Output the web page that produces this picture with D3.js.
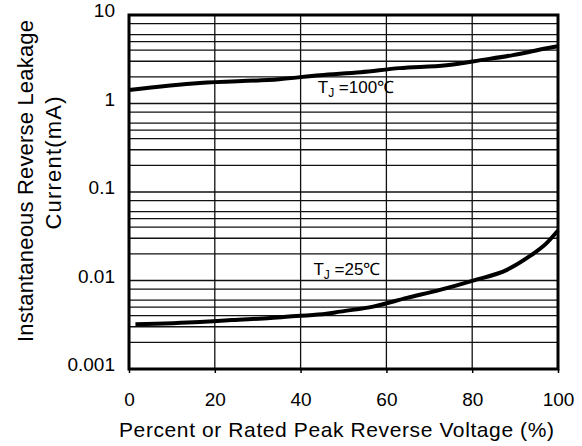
<!DOCTYPE html>
<html>
<head>
<meta charset="utf-8">
<script src="https://d3js.org/d3.v7.min.js"></script>
<style>
  body { margin: 0; background: #fff; }
  text { font-family: "Liberation Sans", Arial, sans-serif; fill: #000; }
</style>
</head>
<body>
<div id="my_dataviz"></div>
<script>
// values
var xTicks = [0, 20, 40, 60, 80, 100];
var yTicks = [0.001, 0.01, 0.1, 1, 10];
var yTickLabels = ["0.001", "0.01", "0.1", "1", "10"];
var gridMantissa = [1, 2, 3, 4, 5, 6, 8];

var pctHot = [0, 16.5, 35, 44.5, 54, 63, 74, 82, 89.5, 97.4, 100];
var iHot = [1.42, 1.70, 1.88, 2.09, 2.26, 2.51, 2.71, 3.09, 3.52, 4.22, 4.45];

var pctCold = [1.5, 16.5, 24, 33, 39, 46, 49.2, 56.9, 64.8, 72.5, 80.2, 88.1, 92.8, 97.4, 100];
var iCold = [0.0032, 0.0034, 0.00358, 0.00377, 0.00397, 0.0042, 0.00445, 0.00507, 0.00636, 0.00783, 0.00998, 0.0132, 0.018, 0.0266, 0.0367];

var curveNames = ["100", "25"];
var labelPct = [44, 43];
var labelVal = [1.31, 0.0116];

// set the dimensions and margins of the graph
var margin = {top: 15, right: 24, bottom: 77, left: 129},
    width = 582 - margin.left - margin.right,
    height = 446 - margin.top - margin.bottom;

var svg = d3.select("#my_dataviz")
  .append("svg")
    .attr("width", 582)
    .attr("height", 446)
  .append("g")
    .attr("transform", "translate(" + margin.left + "," + margin.top + ")");

var x = d3.scaleLinear()
  .domain([0, 100])
  .range([0, width]);

var y = d3.scaleLog()
  .domain([0.001, 10])
  .range([height, 0]);

// horizontal log grid
var gridVals = [];
[0.001, 0.01, 0.1, 1].forEach(function (dec) {
  gridMantissa.forEach(function (m) { gridVals.push(dec * m); });
});

svg.append("g")
  .selectAll("line")
  .data(gridVals)
  .enter()
  .append("line")
    .attr("x1", 0)
    .attr("x2", width)
    .attr("y1", d => y(d))
    .attr("y2", d => y(d))
    .style("stroke", "#111")
    .style("stroke-width", 1.3);

// vertical grid
svg.append("g")
  .selectAll("line")
  .data(xTicks.slice(1, -1))
  .enter()
  .append("line")
    .attr("x1", d => x(d))
    .attr("x2", d => x(d))
    .attr("y1", 0)
    .attr("y2", height)
    .style("stroke", "#111")
    .style("stroke-width", 1.3);

// X axis
var xAxis = svg.append("g")
  .attr("transform", "translate(0," + height + ")")
  .call(d3.axisBottom(x).tickValues(xTicks).tickSize(4).tickPadding(20));
xAxis.select(".domain").remove();
xAxis.selectAll("line").style("stroke", "#000").style("stroke-width", 1.5);
xAxis.selectAll("text")
  .style("font-size", "19px")
  .style("font-family", "Liberation Sans, Arial, sans-serif");

// Y axis
var yAxis = svg.append("g")
  .call(d3.axisLeft(y)
    .tickValues(yTicks)
    .tickFormat((d, i) => yTickLabels[i])
    .tickSize(0)
    .tickPadding(14));
yAxis.select(".domain").remove();
yAxis.selectAll("text")
  .attr("dy", "0.1em")
  .style("font-size", "19px")
  .style("font-family", "Liberation Sans, Arial, sans-serif");

// curves
var line = d3.line()
  .x(d => x(d[0]))
  .y(d => y(d[1]))
  .curve(d3.curveMonotoneX);

var series = [d3.zip(pctHot, iHot), d3.zip(pctCold, iCold)];

svg.append("g")
  .selectAll("path")
  .data(series)
  .enter()
  .append("path")
    .attr("d", line)
    .style("fill", "none")
    .style("stroke", "#000")
    .style("stroke-width", 4);

// frame
svg.append("rect")
  .attr("x", 0)
  .attr("y", 0)
  .attr("width", width)
  .attr("height", height)
  .style("fill", "none")
  .style("stroke", "#000")
  .style("stroke-width", 3);

// curve labels
var lbl = svg.append("g")
  .selectAll("text")
  .data(curveNames)
  .enter()
  .append("text")
    .attr("x", (d, i) => x(labelPct[i]))
    .attr("y", (d, i) => y(labelVal[i]))
    .style("font-size", "17px");
lbl.append("tspan").text("T");
lbl.append("tspan").attr("dy", 4).style("font-size", "12px").text("J");
lbl.append("tspan").attr("dy", -4).text(d => " =" + d + "\u2103");

// text label for the x axis
svg.append("text")
  .attr("x", width / 2 - 7)
  .attr("y", height + 68)
  .attr("text-anchor", "middle")
  .attr("textLength", 435)
  .style("font-size", "21px")
  .text("Percent or Rated Peak Reverse Voltage (%)");

// text label for the y axis
svg.append("text")
  .attr("transform", "translate(" + (33 - margin.left) + "," + (181 - margin.top) + ") rotate(-90)")
  .attr("text-anchor", "middle")
  .attr("textLength", 322)
  .style("font-size", "22px")
  .text("Instantaneous Reverse Leakage");

svg.append("text")
  .attr("transform", "translate(" + (61 - margin.left) + "," + (163 - margin.top) + ") rotate(-90)")
  .attr("text-anchor", "middle")
  .attr("textLength", 133)
  .style("font-size", "22px")
  .text("Current(mA)");
</script>
</body>
</html>
